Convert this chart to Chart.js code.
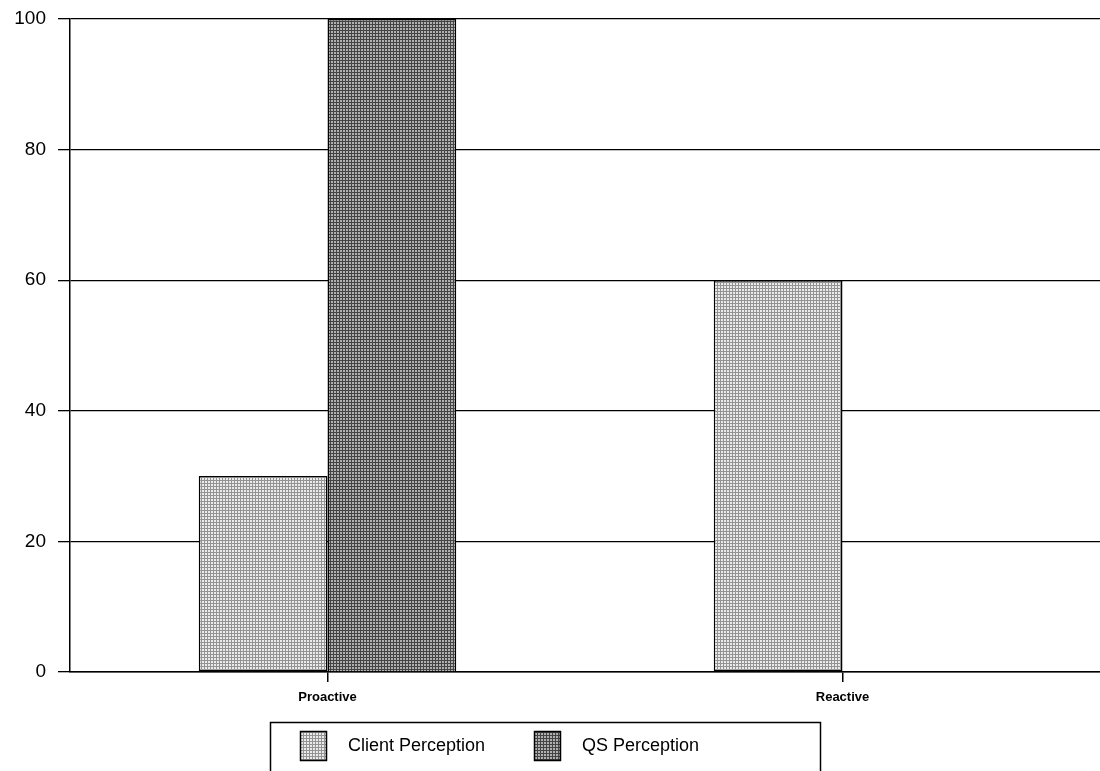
<!DOCTYPE html>
<html>
<head>
<meta charset="utf-8">
<script src="https://cdn.jsdelivr.net/npm/chart.js@4"></script>
<style>
  html, body { margin: 0; padding: 0; background: #fff; }
  #wrap { width: 1100px; height: 771px; }
</style>
</head>
<body>
<div id="wrap"><canvas id="perceptionChart" width="1100" height="771"></canvas></div>
<script>
// chart data
const categories = ["Proactive", "Reactive"];
const seriesNames = ["Client Perception", "QS Perception"];
const clientValues = [30, 60];
const qsValues = [100, 0];
const yMin = 0;
const yMax = 100;
const yStep = 20;

// dotted mesh fill, like the scanned print
function makePattern(bg, fg) {
  const c = document.createElement("canvas");
  c.width = 3;
  c.height = 3;
  const g = c.getContext("2d");
  g.fillStyle = bg;
  g.fillRect(0, 0, 3, 3);
  g.fillStyle = fg;
  g.fillRect(0, 0, 3, 1);
  g.fillRect(0, 0, 1, 3);
  return g.createPattern(c, "repeat");
}

const ctx = document.getElementById("perceptionChart").getContext("2d");
const clientFill = makePattern("#ebebeb", "#939393");
const qsFill = makePattern("#b0b0b0", "#444444");

// boxed legend under the axis
const boxLegend = {
  id: "boxLegend",
  afterDraw(chart) {
    const g = chart.ctx;
    g.save();
    g.strokeStyle = "#000";
    g.lineWidth = 1.5;
    g.strokeRect(270.5, 722.5, 550, 60);

    const items = [
      { x: 300, fill: clientFill, text: seriesNames[0] },
      { x: 534, fill: qsFill, text: seriesNames[1] },
    ];
    g.font = "18px 'Liberation Sans', Arial, sans-serif";
    g.textBaseline = "middle";
    items.forEach((it) => {
      g.fillStyle = it.fill;
      g.fillRect(it.x, 731, 26, 29);
      g.lineWidth = 1.5;
      g.strokeRect(it.x + 0.5, 731.5, 26, 29);
      g.fillStyle = "#000";
      g.fillText(it.text, it.x + 48, 746);
    });
    g.restore();
  },
};

new Chart(ctx, {
  type: "bar",
  data: {
    labels: categories,
    datasets: [
      {
        label: seriesNames[0],
        data: clientValues,
        backgroundColor: clientFill,
        borderColor: "#000",
        borderWidth: 1.5,
        borderSkipped: false,
        barPercentage: 1,
        categoryPercentage: 0.5,
      },
      {
        label: seriesNames[1],
        data: qsValues,
        backgroundColor: qsFill,
        borderColor: "#000",
        borderWidth: 1.5,
        borderSkipped: "bottom",
        barPercentage: 1,
        categoryPercentage: 0.5,
      },
    ],
  },
  options: {
    responsive: false,
    animation: false,
    layout: { padding: { top: 19, right: -4, bottom: 0, left: 0 } },
    plugins: {
      legend: { display: false },
      tooltip: { enabled: false },
    },
    scales: {
      x: {
        afterFit: (scale) => {
          scale.height = 99;
          scale.paddingLeft = 0;
          scale.paddingRight = 0;
        },
        grid: {
          offset: false,
          drawOnChartArea: false,
          color: "#000",
          lineWidth: 1.5,
          tickLength: 10,
        },
        border: { display: true, color: "#000", width: 1.5 },
        ticks: {
          color: "#000",
          padding: 8,
          font: { family: "'Liberation Sans', Arial", size: 13, weight: "bold" },
        },
      },
      y: {
        min: yMin,
        max: yMax,
        afterFit: (scale) => {
          scale.width = 70;
          scale.paddingTop = 0;
          scale.paddingBottom = 0;
        },
        grid: {
          color: "#000",
          lineWidth: 1.3,
          tickLength: 12,
        },
        border: { display: true, color: "#000", width: 1.5 },
        ticks: {
          stepSize: yStep,
          color: "#000",
          padding: 12,
          font: { family: "'Liberation Sans', Arial", size: 19 },
        },
      },
    },
  },
  plugins: [boxLegend],
});
</script>
</body>
</html>
